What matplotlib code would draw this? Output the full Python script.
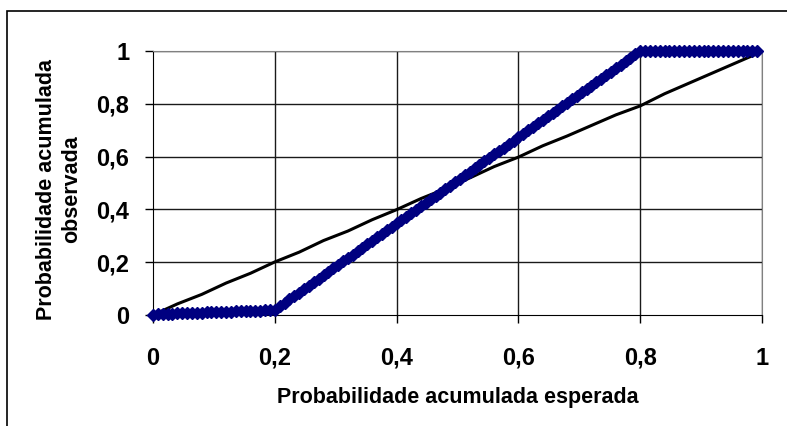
import matplotlib.pyplot as plt
from matplotlib.patches import Rectangle

plt.rcParams["font.family"] = ["Liberation Sans", "DejaVu Sans"]
plt.rcParams["font.weight"] = "bold"

# probabilidade acumulada esperada (x) e observada (y) dos pontos da amostra
esperada = [
    0.000, 0.008, 0.016, 0.024, 0.032, 0.040, 0.048, 0.056, 0.064, 0.072,
    0.080, 0.088, 0.096, 0.104, 0.112, 0.120, 0.128, 0.136, 0.144, 0.152,
    0.160, 0.168, 0.176, 0.184, 0.192, 0.200, 0.208, 0.216, 0.224, 0.232,
    0.240, 0.248, 0.256, 0.264, 0.272, 0.280, 0.288, 0.296, 0.304, 0.312,
    0.320, 0.328, 0.336, 0.344, 0.352, 0.360, 0.368, 0.376, 0.384, 0.392,
    0.400, 0.408, 0.416, 0.424, 0.432, 0.440, 0.448, 0.456, 0.464, 0.472,
    0.480, 0.488, 0.496, 0.504, 0.512, 0.520, 0.528, 0.536, 0.544, 0.552,
    0.560, 0.568, 0.576, 0.584, 0.592, 0.600, 0.608, 0.616, 0.624, 0.632,
    0.640, 0.648, 0.656, 0.664, 0.672, 0.680, 0.688, 0.696, 0.704, 0.712,
    0.720, 0.728, 0.736, 0.744, 0.752, 0.760, 0.768, 0.776, 0.784, 0.792,
    0.800, 0.808, 0.816, 0.824, 0.832, 0.840, 0.848, 0.856, 0.864, 0.872,
    0.880, 0.888, 0.896, 0.904, 0.912, 0.920, 0.928, 0.936, 0.944, 0.952,
    0.960, 0.968, 0.976, 0.984, 0.992,
]
observada = [
    0.000, 0.002, 0.003, 0.004, 0.005, 0.006, 0.006, 0.007, 0.008, 0.008,
    0.009, 0.010, 0.010, 0.011, 0.012, 0.012, 0.013, 0.014, 0.014, 0.015,
    0.016, 0.016, 0.017, 0.018, 0.019, 0.020, 0.033, 0.046, 0.059, 0.072,
    0.085, 0.098, 0.111, 0.125, 0.136, 0.151, 0.164, 0.177, 0.190, 0.203,
    0.216, 0.229, 0.242, 0.255, 0.268, 0.281, 0.294, 0.307, 0.321, 0.334,
    0.347, 0.360, 0.373, 0.386, 0.399, 0.412, 0.425, 0.438, 0.451, 0.464,
    0.477, 0.490, 0.503, 0.516, 0.530, 0.543, 0.556, 0.569, 0.582, 0.595,
    0.608, 0.621, 0.634, 0.647, 0.660, 0.673, 0.686, 0.699, 0.712, 0.726,
    0.739, 0.752, 0.765, 0.778, 0.791, 0.804, 0.817, 0.830, 0.843, 0.856,
    0.869, 0.882, 0.895, 0.908, 0.922, 0.935, 0.948, 0.961, 0.974, 0.987,
    1.000, 1.000, 1.000, 1.000, 1.000, 1.000, 1.000, 1.000, 1.000, 1.000,
    1.000, 1.000, 1.000, 1.000, 1.000, 1.000, 1.000, 1.000, 1.000, 1.000,
    1.000, 1.000, 1.000, 1.000, 1.000,
]

# reta de referencia
ref_x = [0.000, 0.040, 0.080, 0.120, 0.160, 0.200, 0.240, 0.280, 0.320, 0.360,
         0.400, 0.440, 0.480, 0.520, 0.560, 0.600, 0.640, 0.680, 0.720, 0.760,
         0.800, 0.840, 0.880, 0.920, 0.960, 0.992]
ref_y = [0.000, 0.042, 0.078, 0.121, 0.158, 0.201, 0.238, 0.282, 0.318, 0.361,
         0.399, 0.441, 0.478, 0.519, 0.562, 0.598, 0.641, 0.678, 0.718, 0.758,
         0.792, 0.838, 0.878, 0.918, 0.958, 0.990]

ticks = [0, 0.2, 0.4, 0.6, 0.8, 1]
tick_labels = ["0", "0,2", "0,4", "0,6", "0,8", "1"]

fig = plt.figure(figsize=(7.87, 4.26), dpi=100)
fig.patches.append(Rectangle((7 / 787, -0.1), 1.2, 1 - 11 / 426 + 0.1,
                             transform=fig.transFigure, fill=False,
                             edgecolor="black", linewidth=1.2))

ax = fig.add_axes([153 / 787, 1 - 315 / 426, 609 / 787, 264 / 426])
ax.set_xlim(0, 1)
ax.set_ylim(0, 1)

for t in ticks[1:]:
    ax.axvline(t, color="#1a1a1a", linewidth=1, zorder=1)
    ax.axhline(t, color="#1a1a1a", linewidth=1, zorder=1)

ax.plot(ref_x, ref_y, color="black", linewidth=2.2, zorder=3, clip_on=False)
ax.plot(esperada, observada, color="#000080", linewidth=2.6, marker="D",
        markersize=5.8, markeredgecolor="#000080", zorder=4, clip_on=False)

ax.set_xticks(ticks)
ax.set_xticklabels(tick_labels)
ax.set_yticks(ticks)
ax.set_yticklabels(tick_labels)
ax.tick_params(axis="both", direction="out", length=6, width=1,
               labelsize=17, color="black")
ax.tick_params(axis="x", pad=17)
ax.tick_params(axis="y", pad=11)

for side in ("top", "right"):
    ax.spines[side].set_color("#808080")
for side in ("left", "bottom"):
    ax.spines[side].set_color("black")

ax.set_xlabel("Probabilidade acumulada esperada", fontsize=15.5,
              fontweight="bold", labelpad=12)
fig.text(59 / 787, 1 - 189 / 426, "Probabilidade acumulada\nobservada",
         rotation=90, ha="center", va="center", fontsize=15.5,
         fontweight="bold", linespacing=1.25, multialignment="center")

fig.savefig("out.png", dpi=100)
